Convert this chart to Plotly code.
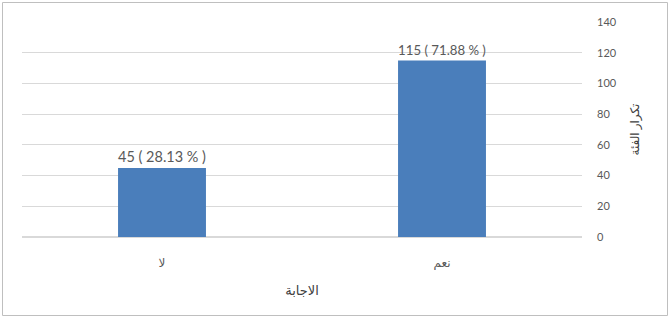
import plotly.graph_objects as go

categories = ["لا", "نعم"]
counts = [45, 115]
percents = ["28.13", "71.88"]
y_ticks = [0, 20, 40, 60, 80, 100, 120, 140]

labels = [f"{c} ( {p} % )" for c, p in zip(counts, percents)]

fig = go.Figure(go.Bar(
    x=categories, y=counts, text=labels, textposition="outside",
    textfont=dict(size=15, color="#595959"),
    marker=dict(color="#4a7ebb", line=dict(width=0)),
    cliponaxis=False,
))

W, H = 670, 320
L, R, T, B = 22, 88, 22, 83
pw, ph = W - L - R, H - T - B

def px(x):
    return (x - L) / pw

def py(y):
    return (H - B - y) / ph

fig.update_layout(
    width=W, height=H,
    margin=dict(l=L, r=R, t=T, b=B, autoexpand=False),
    paper_bgcolor="white", plot_bgcolor="white",
    font=dict(family="Lato, DejaVu Sans", color="#595959", size=11),
    bargap=0.686,
    showlegend=False,
    xaxis=dict(
        type="category", showgrid=False, showline=False, ticks="",
        ticklabelstandoff=17, automargin=False,
        tickfont=dict(size=12, color="#595959"),
        title=dict(text="الاجابة", font=dict(size=13, color="#404040"), standoff=16),
    ),
    yaxis=dict(
        side="right", range=[0, 140], tickvals=y_ticks, automargin=False,
        showgrid=True, gridcolor="#d9d9d9", gridwidth=1,
        zeroline=True, zerolinecolor="#d9d9d9", showline=False,
        ticks="", ticklabelstandoff=14,
        tickfont=dict(size=11, color="#595959"),
        title=dict(text="تكرار الفئة", font=dict(size=12, color="#404040"), standoff=14),
    ),
    shapes=[dict(
        type="rect", xref="paper", yref="paper",
        x0=px(2.5), x1=px(667.5), y0=py(315.5), y1=py(2.5),
        line=dict(color="#bfbfbf", width=1), fillcolor="rgba(0,0,0,0)",
        layer="below",
    )],
)

fig.write_html("out.html", config={"displayModeBar": False},
               post_script="document.body.style.margin='0';")
